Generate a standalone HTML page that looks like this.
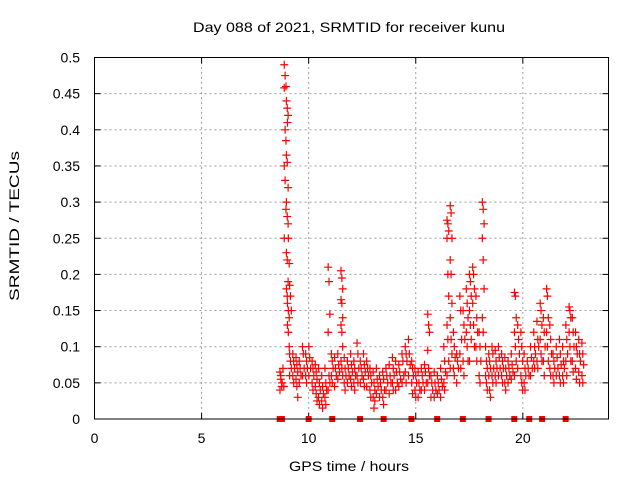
<!DOCTYPE html>
<html><head><meta charset="utf-8"><style>
html,body{margin:0;padding:0;background:#fff;}
svg{display:block;font-family:"Liberation Sans",sans-serif;}
</style></head><body>
<svg id="chart" width="640" height="480">
<text x="349" y="32" text-anchor="middle" font-size="14" textLength="312" lengthAdjust="spacingAndGlyphs">Day 088 of 2021, SRMTID for receiver kunu</text>
<text x="349" y="471" text-anchor="middle" font-size="14" textLength="120" lengthAdjust="spacingAndGlyphs">GPS time / hours</text>
<text x="19" y="226" text-anchor="middle" font-size="14" textLength="150" lengthAdjust="spacingAndGlyphs" transform="rotate(-90 19 226)">SRMTID / TECUs</text>
<g id="grid"></g><g id="axes"></g><g id="marks"></g>
<rect x="94.5" y="57.5" width="514" height="361.5" fill="none" stroke="#000" stroke-width="1"/>
</svg>
<script>
const xTicks=[0,5,10,15,20];
const yTicks=[0,0.05,0.1,0.15,0.2,0.25,0.3,0.35,0.4,0.45,0.5];
const yTickLabels=["0","0.05","0.1","0.15","0.2","0.25","0.3","0.35","0.4","0.45","0.5"];
const gapHours=[8.65,8.75,10.0,11.1,12.4,13.5,14.8,16.0,17.2,18.4,19.6,20.3,20.9,22.0];
const groupHours=[8.7,8.8,8.9,9.0,9.05,9.15,9.3,9.45,9.6,9.75,9.9,10.05,10.2,10.35,10.5,10.65,10.8,10.95,11.1,11.25,11.4,11.55,11.7,11.85,12.0,12.15,12.3,12.45,12.6,12.75,12.9,13.05,13.2,13.35,13.5,13.65,13.8,13.95,14.1,14.25,14.4,14.55,14.7,14.85,15.0,15.15,15.3,15.45,15.6,15.75,15.9,16.05,16.2,16.35,16.5,16.65,16.8,16.95,17.1,17.25,17.4,17.55,17.7,17.85,18.0,18.15,18.3,18.45,18.6,18.75,18.9,19.05,19.2,19.35,19.5,19.65,19.8,19.95,20.1,20.25,20.4,20.55,20.7,20.85,21.0,21.15,21.3,21.45,21.6,21.75,21.9,22.05,22.2,22.35,22.5,22.65,22.8];
const groupValues=[
[.065,.055,.045,.04,.06],
[.05,.07,.045],
[.49,.475,.46,.458,.40,.385,.35,.33,.29,.25],
[.44,.43,.42,.365,.355,.32,.30,.28,.27,.23,.22,.19,.18,.17],
[.41,.25,.215,.16,.15,.14,.13,.12,.10],
[.185,.17,.15,.09,.08,.07,.06],
[.09,.08,.07,.06,.05],
[.085,.075,.065,.055,.045,.03],
[.08,.07,.06,.05],
[.1,.09,.07,.06],
[.09,.08,.07,.06,.05],
[.10,.085,.07,.06],
[.08,.07,.06,.05,.04],
[.075,.065,.055,.045,.035,.025],
[.07,.05,.04,.03,.02],
[.06,.045,.035,.025,.015],
[.07,.05,.04,.03,.02],
[.21,.19,.145,.12,.06,.05,.04],
[.09,.08,.07,.06,.05],
[.085,.07,.06,.045],
[.09,.075,.065,.055],
[.205,.195,.18,.165,.16,.14,.13,.12,.10,.08,.07,.06],
[.085,.07,.06,.05,.04],
[.08,.07,.06,.05],
[.09,.075,.065,.055,.045],
[.08,.07,.06,.05,.04],
[.105,.09,.07,.06,.05],
[.08,.07,.06,.05],
[.09,.075,.065,.055,.045],
[.08,.07,.06,.045],
[.07,.06,.05,.04,.03],
[.065,.05,.04,.03,.015,.025],
[.07,.055,.045,.035],
[.06,.05,.04,.03],
[.065,.055,.04,.03,.02],
[.07,.06,.05,.04],
[.075,.06,.05,.035],
[.085,.07,.06,.05,.04],
[.08,.065,.05,.04],
[.075,.065,.055,.045],
[.09,.08,.06,.05],
[.10,.09,.08,.065,.05],
[.11,.09,.075,.06],
[.08,.07,.06,.05,.035],
[.07,.06,.05,.04,.03],
[.065,.05,.04,.03],
[.07,.06,.05,.04],
[.075,.065,.05,.04],
[.145,.13,.12,.095,.07,.06,.05],
[.06,.05,.04,.03],
[.065,.05,.04,.03],
[.06,.05,.04,.035],
[.07,.055,.045,.03],
[.1,.08,.065,.05,.04],
[.275,.27,.26,.25,.2,.17,.13,.11,.08,.06],
[.295,.285,.25,.22,.2,.16,.14,.11,.09,.07],
[.12,.1,.085,.07,.06],
[.09,.08,.07,.05],
[.17,.15,.11,.09,.07],
[.15,.13,.11,.08,.06],
[.18,.16,.14,.12,.1,.08],
[.2,.19,.17,.15,.13,.11,.08],
[.21,.2,.18,.16,.13,.1],
[.17,.14,.12,.1,.08],
[.12,.1,.08,.06,.05],
[.3,.29,.27,.25,.22,.18,.14,.12],
[.1,.08,.07,.06,.05,.04],
[.09,.08,.07,.06,.04,.03],
[.1,.09,.07,.06,.05],
[.095,.08,.07,.06,.05],
[.1,.085,.07,.06],
[.09,.08,.07,.06,.05],
[.085,.07,.06,.05,.04],
[.08,.07,.06,.05],
[.09,.075,.065,.055],
[.175,.17,.14,.12,.1,.08,.06],
[.13,.11,.09,.07],
[.12,.1,.08,.06,.05,.04],
[.09,.07,.06,.05,.04],
[.08,.07,.06],
[.1,.085,.07,.06],
[.12,.1,.09,.08,.07],
[.135,.11,.1,.08,.07],
[.16,.15,.13,.11,.09,.08],
[.14,.12,.1,.08,.06],
[.18,.17,.14,.12,.1,.08],
[.13,.11,.09,.07,.06],
[.09,.08,.07,.06,.05],
[.1,.085,.07,.06],
[.11,.09,.075,.06,.05],
[.1,.08,.07,.06,.05],
[.13,.11,.09,.08,.06],
[.155,.15,.14,.12,.1,.08],
[.14,.12,.1,.08,.065],
[.12,.1,.09,.07,.055],
[.11,.09,.08,.065,.05],
[.105,.09,.075,.06,.05]
];
const NS="http://www.w3.org/2000/svg";
const X0=94.5,X1=608.5,Y0=419,Y1=57.5;
function xs(h){return X0+(h/24)*(X1-X0);}
function ys(v){return Y0-(v/0.5)*(Y0-Y1);}
function mk(tag,attrs,parent){const e=document.createElementNS(NS,tag);for(const k in attrs)e.setAttribute(k,attrs[k]);parent.appendChild(e);return e;}
const grid=document.getElementById('grid'),axes=document.getElementById('axes'),marks=document.getElementById('marks');
xTicks.forEach(t=>{const x=xs(t);
 if(t>0){const g=mk('line',{x1:x,x2:x,y1:Y0,y2:Y1,stroke:'#a0a0a0','stroke-dasharray':'2,3'},grid);
 
 }
 mk('line',{x1:x,x2:x,y1:Y0,y2:Y0-6,stroke:'#000'},axes);
 mk('line',{x1:x,x2:x,y1:Y1,y2:Y1+6,stroke:'#000'},axes);
 const l=mk('text',{x:x,y:443,'text-anchor':'middle','font-size':'14'},axes);l.textContent=t;
 
 
});
yTicks.forEach((t,i)=>{const y=ys(t);
 if(i>0&&i<yTicks.length-1){const g=mk('line',{x1:X0,x2:X1,y1:y,y2:y,stroke:'#a0a0a0','stroke-dasharray':'2,3'},grid);
 
 }
 mk('line',{x1:X0,x2:X0+6,y1:y,y2:y,stroke:'#000'},axes);
 mk('line',{x1:X1,x2:X1-6,y1:y,y2:y,stroke:'#000'},axes);
 const l=mk('text',{x:80,y:y+5,'text-anchor':'end','font-size':'14'},axes);l.textContent=yTickLabels[i];
 
 
});
groupHours.forEach((h,gi)=>{groupValues[gi].forEach((v,j)=>{
 const x=xs(h+((j%3)-1)*0.04),y=ys(v);
 const p=mk('path',{d:`M${x-4},${y}H${x+4}M${x},${y-4}V${y+4}`,stroke:'#f00','stroke-width':'1.2',fill:'none'},marks);
 
 
});});
gapHours.forEach(h=>{const r=mk('rect',{x:xs(h)-3,y:Y0-3,width:6,height:6,fill:'#f00'},marks);
 
 
});
</script>
</body></html>
